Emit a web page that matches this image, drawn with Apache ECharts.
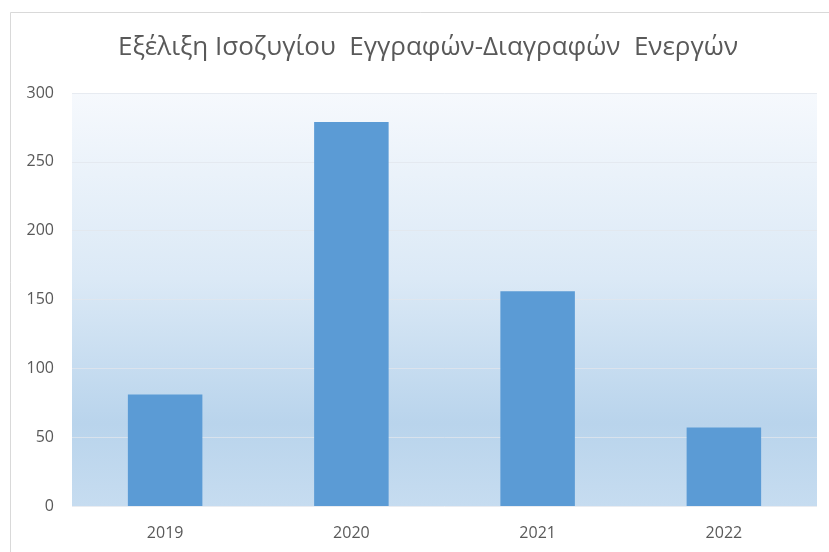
<!DOCTYPE html>
<html><head><meta charset="utf-8">
<script src="https://cdn.jsdelivr.net/npm/echarts@6/dist/echarts.min.js"></script>
<style>html,body{margin:0;padding:0;background:#fff}#c{width:829px;height:552px}</style>
</head><body><div id="c"></div>
<script>
const title = 'Εξέλιξη Ισοζυγίου  Εγγραφών-Διαγραφών  Ενεργών';
const categories = ['2019', '2020', '2021', '2022'];
const values = [81, 279, 156, 57];
const yTicks = [0, 50, 100, 150, 200, 250, 300];

const chart = echarts.init(document.getElementById('c'), null, {renderer: 'canvas'});
chart.setOption({
  animation: false,
  backgroundColor: '#ffffff',
  graphic: [{
    type: 'rect', silent: true, z: -10,
    shape: {x: 10.5, y: 12.5, width: 840, height: 560},
    style: {fill: 'none', stroke: '#d9d9d9', lineWidth: 1}
  }],
  title: {
    text: title, left: 423, top: 30, textAlign: 'center',
    textStyle: {fontFamily: 'Open Sans', fontSize: 26, fontWeight: 'normal', color: '#595959'}
  },
  grid: {
    left: 72, right: 12, top: 93, bottom: 46, show: true, borderWidth: 0,
    backgroundColor: {
      type: 'linear', x: 0, y: 0, x2: 0, y2: 1,
      colorStops: [
        {offset: 0, color: '#f6f9fd'},
        {offset: 0.45, color: '#dbe9f6'},
        {offset: 0.8, color: '#b9d4ec'},
        {offset: 1, color: '#c6dcf0'}
      ]
    }
  },
  xAxis: {
    type: 'category', data: categories,
    axisLine: {show: false}, axisTick: {show: false},
    axisLabel: {color: '#595959', fontFamily: 'Open Sans', fontSize: 16, margin: 19}
  },
  yAxis: {
    type: 'value', min: yTicks[0], max: yTicks[yTicks.length - 1], interval: 50,
    axisLine: {show: false}, axisTick: {show: false},
    axisLabel: {color: '#595959', fontFamily: 'Open Sans', fontSize: 16, margin: 18},
    splitLine: {lineStyle: {color: 'rgba(225,230,236,0.75)', width: 1}}
  },
  series: [{
    type: 'bar', data: values, barWidth: '40%',
    itemStyle: {color: '#5b9bd5'}
  }]
});
</script></body></html>
